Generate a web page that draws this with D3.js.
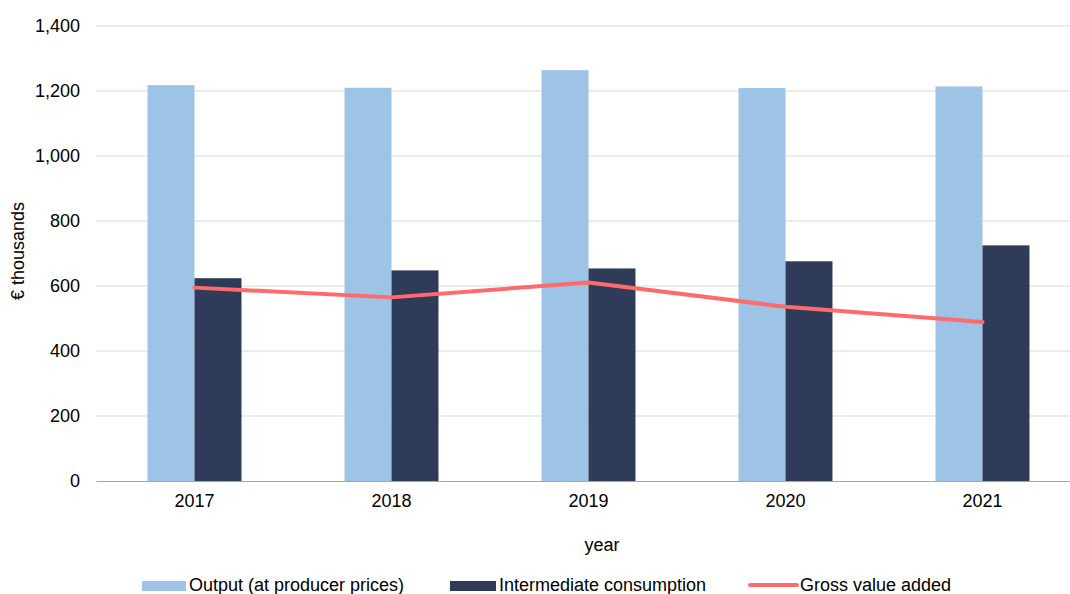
<!DOCTYPE html>
<html>
<head>
<meta charset="utf-8">
<script src="https://cdn.jsdelivr.net/npm/d3@7"></script>
<style>
  body { margin: 0; background: #fff; }
  svg { display: block; font-family: "Liberation Sans", Arial, sans-serif; }
</style>
</head>
<body>
<div id="chart"></div>
<script>
// Data (€ thousands)
const years = ["2017", "2018", "2019", "2020", "2021"];
const output = [1218, 1210, 1264, 1209, 1214];
const intermediate = [624, 648, 654, 676, 725];
const grossValueAdded = [595, 565, 611, 536, 489];
const yTicks = [0, 200, 400, 600, 800, 1000, 1200, 1400];
const seriesNames = ["Output (at producer prices)", "Intermediate consumption", "Gross value added"];

const colors = { output: "#9dc3e6", ic: "#2e3c5a", gva: "#ff6b6b" };

const W = 1070, H = 594;
const margin = { top: 26, right: 1070 - 1081, bottom: 594 - 481, left: 96 };

const svg = d3.select("#chart").append("svg")
    .attr("width", W)
    .attr("height", H);

const x = d3.scaleBand()
    .domain(years)
    .range([96, 1081])
    .paddingInner(0.523)
    .paddingOuter(0.2615);

const y = d3.scaleLinear()
    .domain([0, 1400])
    .range([481, 26]);

// Gridlines
svg.append("g")
    .selectAll("line")
    .data(yTicks.filter(d => d > 0))
    .enter().append("line")
    .attr("x1", 96)
    .attr("x2", 1081)
    .attr("y1", d => y(d))
    .attr("y2", d => y(d))
    .attr("stroke", "#d9d9d9")
    .attr("stroke-width", 1);

// Y axis labels
const yAxis = svg.append("g")
    .attr("transform", "translate(96,0)")
    .call(d3.axisLeft(y).tickValues(yTicks).tickSize(0).tickPadding(16).tickFormat(d3.format(",")));
yAxis.select(".domain").remove();
yAxis.selectAll("text")
    .style("font-size", "18px")
    .attr("fill", "#000");

// Bars
const barW = x.bandwidth() / 2;

svg.append("g")
    .selectAll("rect")
    .data(years)
    .enter().append("rect")
    .attr("x", d => x(d))
    .attr("y", (d, i) => y(output[i]))
    .attr("width", barW)
    .attr("height", (d, i) => y(0) - y(output[i]))
    .attr("fill", colors.output);

svg.append("g")
    .selectAll("rect")
    .data(years)
    .enter().append("rect")
    .attr("x", d => x(d) + barW)
    .attr("y", (d, i) => y(intermediate[i]))
    .attr("width", barW)
    .attr("height", (d, i) => y(0) - y(intermediate[i]))
    .attr("fill", colors.ic);

// X axis
const xAxis = svg.append("g")
    .attr("transform", "translate(0,481)")
    .call(d3.axisBottom(x).tickSize(0).tickPadding(13));
xAxis.select(".domain")
    .attr("stroke", "#a6a6a6")
    .attr("stroke-width", 1.2);
xAxis.selectAll("text")
    .style("font-size", "18px")
    .attr("fill", "#000");

// Gross value added line
const line = d3.line()
    .x((d, i) => x(years[i]) + x.bandwidth() / 2)
    .y(d => y(d));

svg.append("path")
    .datum(grossValueAdded)
    .attr("d", line)
    .attr("fill", "none")
    .attr("stroke", colors.gva)
    .attr("stroke-width", 4)
    .attr("stroke-linecap", "round")
    .attr("stroke-linejoin", "round");

// Axis titles
svg.append("text")
    .attr("x", 602)
    .attr("y", 551)
    .attr("text-anchor", "middle")
    .style("font-size", "18px")
    .text("year");

svg.append("text")
    .attr("transform", "translate(24,251) rotate(-90)")
    .attr("text-anchor", "middle")
    .style("font-size", "18px")
    .text("€ thousands");

// Legend
const legend = svg.append("g");
const legendItems = [
    { name: seriesNames[0], type: "rect", color: colors.output, x: 142, w: 44 },
    { name: seriesNames[1], type: "rect", color: colors.ic, x: 450, w: 46 },
    { name: seriesNames[2], type: "line", color: colors.gva, x: 750, w: 47 }
];

legendItems.forEach(item => {
    if (item.type === "rect") {
        legend.append("rect")
            .attr("x", item.x)
            .attr("y", 581)
            .attr("width", item.w)
            .attr("height", 10)
            .attr("fill", item.color);
    } else {
        legend.append("line")
            .attr("x1", item.x)
            .attr("x2", item.x + item.w)
            .attr("y1", 585)
            .attr("y2", 585)
            .attr("stroke", item.color)
            .attr("stroke-width", 4)
            .attr("stroke-linecap", "round");
    }
    legend.append("text")
        .attr("x", item.x + item.w + 3)
        .attr("y", 591)
        .style("font-size", "18px")
        .text(item.name);
});
</script>
</body>
</html>
